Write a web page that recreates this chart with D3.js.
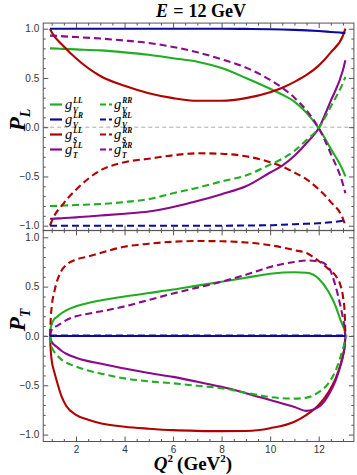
<!DOCTYPE html>
<html><head><meta charset="utf-8">
<script src="https://cdn.jsdelivr.net/npm/d3@7"></script>
<style>body{margin:0;background:#fff}</style>
</head><body><svg id="c" width="357" height="475"></svg>
<script>
// ---------- DATA ----------
const qTop = [0.93, 1, 1.5, 2, 3, 4, 5, 6, 7, 8, 9, 10, 10.5, 11, 11.5, 12, 12.5, 13, 13.1];
const PL_gV_LL = [0.80, 0.80, 0.795, 0.79, 0.78, 0.76, 0.735, 0.70, 0.665, 0.60, 0.50, 0.39, 0.33, 0.26, 0.145, -0.01, -0.22, -0.44, -0.50];
const PL_gV_RR = [-0.80, -0.80, -0.795, -0.79, -0.78, -0.76, -0.73, -0.67, -0.615, -0.55, -0.49, -0.38, -0.32, -0.24, -0.13, -0.01, 0.21, 0.45, 0.51];
const PL_gV_LR = [1.0, 1.0, 1.0, 1.0, 1.0, 1.0, 1.0, 1.0, 1.0, 1.0, 0.998, 0.995, 0.992, 0.988, 0.983, 0.976, 0.967, 0.958, 0.955];
const PL_gV_RL = [-1.0, -1.0, -1.0, -1.0, -1.0, -1.0, -1.0, -1.0, -1.0, -1.0, -0.998, -0.995, -0.99, -0.985, -0.98, -0.975, -0.965, -0.95, -0.945];
const PL_gS_LL = [1.0, 0.965, 0.82, 0.70, 0.52, 0.42, 0.345, 0.295, 0.268, 0.268, 0.295, 0.355, 0.40, 0.46, 0.53, 0.625, 0.76, 0.93, 1.0];
const PL_gS_RR = [-1.0, -0.955, -0.77, -0.635, -0.44, -0.355, -0.32, -0.285, -0.265, -0.27, -0.295, -0.355, -0.40, -0.46, -0.53, -0.63, -0.76, -0.93, -1.0];
const PL_gT_LL = [-0.93, -0.93, -0.922, -0.915, -0.897, -0.878, -0.855, -0.81, -0.75, -0.68, -0.60, -0.46, -0.39, -0.29, -0.16, -0.01, 0.27, 0.58, 0.68];
const PL_gT_RR = [0.93, 0.93, 0.922, 0.915, 0.90, 0.88, 0.855, 0.815, 0.76, 0.69, 0.605, 0.48, 0.40, 0.30, 0.17, -0.01, -0.27, -0.58, -0.67];

const qBot = [0.93, 0.96, 1.0, 1.1, 1.2, 1.4, 1.6, 2, 2.5, 3, 4, 5, 6, 7, 8, 9, 10, 11, 11.5, 12, 12.4, 12.7, 12.9, 13.0, 13.07, 13.1];
const PT_gV_LL = [0, 0.08, 0.12, 0.17, 0.19, 0.23, 0.26, 0.30, 0.335, 0.36, 0.40, 0.435, 0.47, 0.51, 0.55, 0.59, 0.63, 0.645, 0.64, 0.58, 0.45, 0.30, 0.16, 0.10, 0.05, 0];
const PT_gV_RR = [0, -0.07, -0.11, -0.16, -0.19, -0.24, -0.27, -0.31, -0.35, -0.38, -0.43, -0.46, -0.48, -0.505, -0.53, -0.575, -0.62, -0.635, -0.625, -0.57, -0.48, -0.35, -0.21, -0.13, -0.06, 0];
const PT_gV_LR = [0, 0, 0, 0, 0, 0, 0, 0, 0, 0, 0, 0, 0, 0, 0, 0, 0, 0, 0, 0, 0, 0, 0, 0, 0, 0];
const PT_gV_RL = [0, 0.004, 0.004, 0.004, 0.004, 0.004, 0.004, 0.004, 0.004, 0.004, 0.004, 0.004, 0.004, 0.004, 0.004, 0.004, 0.004, 0.004, 0.004, 0.004, 0.004, 0.004, 0.004, 0.004, 0.004, 0];
const PT_gS_LL = [0, -0.15, -0.25, -0.36, -0.45, -0.61, -0.71, -0.80, -0.85, -0.885, -0.92, -0.94, -0.955, -0.962, -0.965, -0.963, -0.935, -0.87, -0.80, -0.70, -0.57, -0.43, -0.29, -0.20, -0.10, 0];
const PT_gS_RR = [0, 0.18, 0.30, 0.44, 0.54, 0.66, 0.72, 0.775, 0.805, 0.84, 0.905, 0.935, 0.955, 0.962, 0.96, 0.948, 0.92, 0.87, 0.84, 0.76, 0.68, 0.61, 0.51, 0.40, 0.24, 0];
const PT_gT_LL = [0, -0.04, -0.06, -0.09, -0.11, -0.15, -0.18, -0.22, -0.255, -0.28, -0.33, -0.375, -0.415, -0.465, -0.515, -0.58, -0.65, -0.72, -0.76, -0.72, -0.60, -0.45, -0.30, -0.20, -0.10, 0];
const PT_gT_RR = [0, 0.04, 0.06, 0.09, 0.10, 0.13, 0.16, 0.20, 0.225, 0.247, 0.30, 0.365, 0.43, 0.49, 0.55, 0.62, 0.70, 0.75, 0.765, 0.755, 0.70, 0.50, 0.30, 0.18, 0.08, 0];

const xTickValues = [2, 4, 6, 8, 10, 12];
const yTickValues = [-1, -0.5, 0, 0.5, 1];
const legendSub = ["V", "V", "S", "T"];
const legendSupSolid = ["LL", "LR", "LL", "LL"];
const legendSupDashed = ["RR", "RL", "RR", "RR"];

// ---------- STYLE ----------
const C = {green: "#1fae1f", blue: "#0a0aa0", red: "#b00000", purple: "#8a0a8a"};
const DASH = "7,4";

const svg = d3.select("#c");
const x = d3.scaleLinear().domain([2, 12]).range([76, 318.7]);
const xDom = [0.65, 13.45];
const yTop = d3.scaleLinear().domain([-1, 1]).range([225.7, 28.7]);
const yBot = d3.scaleLinear().domain([-1, 1]).range([434.6, 237.3]);

const panels = [
  {y: yTop, yDom: [-1.05, 1.057], q: qTop, label: "L", labelY: 120, xLabels: false,
   series: [
     [PL_gV_LL, C.green, null], [PL_gS_LL, C.red, null], [PL_gT_LL, C.purple, null],
     [PL_gV_RR, C.green, DASH], [PL_gS_RR, C.red, DASH], [PL_gT_RR, C.purple, DASH],
     [PL_gV_LR, C.blue, null], [PL_gV_RL, C.blue, DASH]]},
  {y: yBot, yDom: [-1.07, 1.07], q: qBot, label: "T", labelY: 320, xLabels: true,
   series: [
     [PT_gV_LL, C.green, null], [PT_gS_LL, C.red, null], [PT_gT_LL, C.purple, null],
     [PT_gV_RR, C.green, DASH], [PT_gS_RR, C.red, DASH], [PT_gT_RR, C.purple, DASH],
     [PT_gV_LR, C.blue, null], [PT_gV_RL, C.blue, DASH]]}
];

const frameColor = "#555";
const x0 = x(xDom[0]), x1 = x(xDom[1]);
const xMinor = d3.range(1, 13.5, 0.5).filter(v => v % 2 !== 0 || v === 0);

panels.forEach((p, i) => {
  const y = p.y;
  const yT = y(p.yDom[1]), yB = y(p.yDom[0]);
  const g = svg.append("g");
  const clipId = "clip" + i;
  svg.append("clipPath").attr("id", clipId).append("rect")
    .attr("x", x0).attr("y", yT).attr("width", x1 - x0).attr("height", yB - yT);

  // zero line
  g.append("line").attr("x1", x0).attr("x2", x1).attr("y1", y(0)).attr("y2", y(0))
    .attr("stroke", "#aaa").attr("stroke-width", 1).attr("stroke-dasharray", "4,3");

  // curves
  const line = d3.line().x(d => x(d[0])).y(d => y(d[1])).curve(d3.curveMonotoneX);
  const lg = g.append("g").attr("clip-path", `url(#${clipId})`);
  p.series.forEach(([vals, col, dash]) => {
    lg.append("path").datum(p.q.map((q, k) => [q, vals[k]]))
      .attr("d", line).attr("fill", "none").attr("stroke", col)
      .attr("stroke-width", 2.1).attr("stroke-dasharray", dash)
      .attr("stroke-linecap", "butt");
  });

  // axes (ticks inward)
  const yMinor = d3.range(-10, 11).map(v => v / 10).filter(v => Math.abs(v * 2 - Math.round(v * 2)) > 1e-6);
  const addAxis = (axis, tr) => {
    const a = g.append("g").attr("transform", tr).call(axis);
    a.select(".domain").remove();
    a.selectAll("line").attr("stroke", frameColor);
    a.selectAll("text").attr("fill", "#333").style("font-family", "'Liberation Sans', Arial, sans-serif").style("font-size", "10px");
    return a;
  };
  addAxis(d3.axisLeft(y).tickValues(yTickValues).tickSizeInner(-5).tickSizeOuter(0).tickPadding(4).tickFormat(d3.format(".1f")), `translate(${x0},0)`);
  addAxis(d3.axisLeft(y).tickValues(yMinor).tickSizeInner(-2.5).tickSizeOuter(0).tickFormat(""), `translate(${x0},0)`);
  addAxis(d3.axisRight(y).tickValues(yTickValues).tickSizeInner(-5).tickSizeOuter(0).tickFormat(""), `translate(${x1},0)`);
  addAxis(d3.axisRight(y).tickValues(yMinor).tickSizeInner(-2.5).tickSizeOuter(0).tickFormat(""), `translate(${x1},0)`);
  addAxis(d3.axisBottom(x).tickValues(xTickValues).tickSizeInner(-5).tickSizeOuter(0).tickPadding(4)
    .tickFormat(p.xLabels ? d3.format("d") : ""), `translate(0,${yB})`);
  addAxis(d3.axisBottom(x).tickValues(xMinor).tickSizeInner(-2.5).tickSizeOuter(0).tickFormat(""), `translate(0,${yB})`);
  addAxis(d3.axisTop(x).tickValues(xTickValues).tickSizeInner(-5).tickSizeOuter(0).tickFormat(""), `translate(0,${yT})`);
  addAxis(d3.axisTop(x).tickValues(xMinor).tickSizeInner(-2.5).tickSizeOuter(0).tickFormat(""), `translate(0,${yT})`);

  // frame
  g.append("rect").attr("x", x0).attr("y", yT).attr("width", x1 - x0).attr("height", yB - yT)
    .attr("fill", "none").attr("stroke", frameColor).attr("stroke-width", 1);

  // y label
  const t = g.append("text").attr("transform", `translate(25,${p.labelY}) rotate(-90)`)
    .attr("text-anchor", "middle").style("font-family", "'Liberation Serif', 'Times New Roman', serif")
    .style("font-weight", "bold").style("font-style", "italic").attr("fill", "#000");
  t.append("tspan").style("font-size", "23px").text("P");
  t.append("tspan").style("font-size", "14px").attr("dy", 5).text(p.label);
});

// legend
const serif = "'Liberation Serif', 'Times New Roman', serif";
const legRows = [104.5, 119.5, 134.5, 149.5];
const legColors = [C.green, C.blue, C.red, C.purple];
const leg = svg.append("g");
[[50, 65, legendSupSolid, null], [100, 114, legendSupDashed, DASH]].forEach(([lx, tx, sups, dash]) => {
  legRows.forEach((ry, k) => {
    leg.append("line").attr("x1", lx).attr("x2", lx + 12).attr("y1", ry).attr("y2", ry)
      .attr("stroke", legColors[k]).attr("stroke-width", 2.2).attr("stroke-dasharray", dash ? "6,3" : null);
    leg.append("text").attr("x", tx).attr("y", ry + 4.5).style("font-family", serif)
      .style("font-style", "italic").style("font-size", "14.5px").text("g");
    leg.append("text").attr("x", tx + 8.3).attr("y", ry - 1.8).style("font-family", serif)
      .style("font-style", "italic").style("font-weight", "bold").style("font-size", "7.5px").text(sups[k]);
    leg.append("text").attr("x", tx + 8).attr("y", ry + 8).style("font-family", serif)
      .style("font-style", "italic").style("font-weight", "bold").style("font-size", "7.5px").text(legendSub[k]);
  });
});

// title
const title = svg.append("text").attr("x", 201).attr("y", 17).attr("text-anchor", "middle")
  .style("font-family", serif).style("font-weight", "bold").style("font-size", "18px");
title.append("tspan").style("font-style", "italic").text("E");
title.append("tspan").attr("dx", 5).text("=");
title.append("tspan").attr("dx", 5).text("12 GeV");

// x label
const xl = svg.append("text").attr("x", 193).attr("y", 470).attr("text-anchor", "middle")
  .style("font-family", serif).style("font-weight", "bold").style("font-size", "19px");
xl.append("tspan").style("font-style", "italic").text("Q");
xl.append("tspan").style("font-size", "11px").attr("dy", -8).text("2");
xl.append("tspan").attr("dy", 8).attr("dx", 4).text("(GeV");
xl.append("tspan").style("font-size", "11px").attr("dy", -8).text("2");
xl.append("tspan").attr("dy", 8).text(")");
</script></body></html>
